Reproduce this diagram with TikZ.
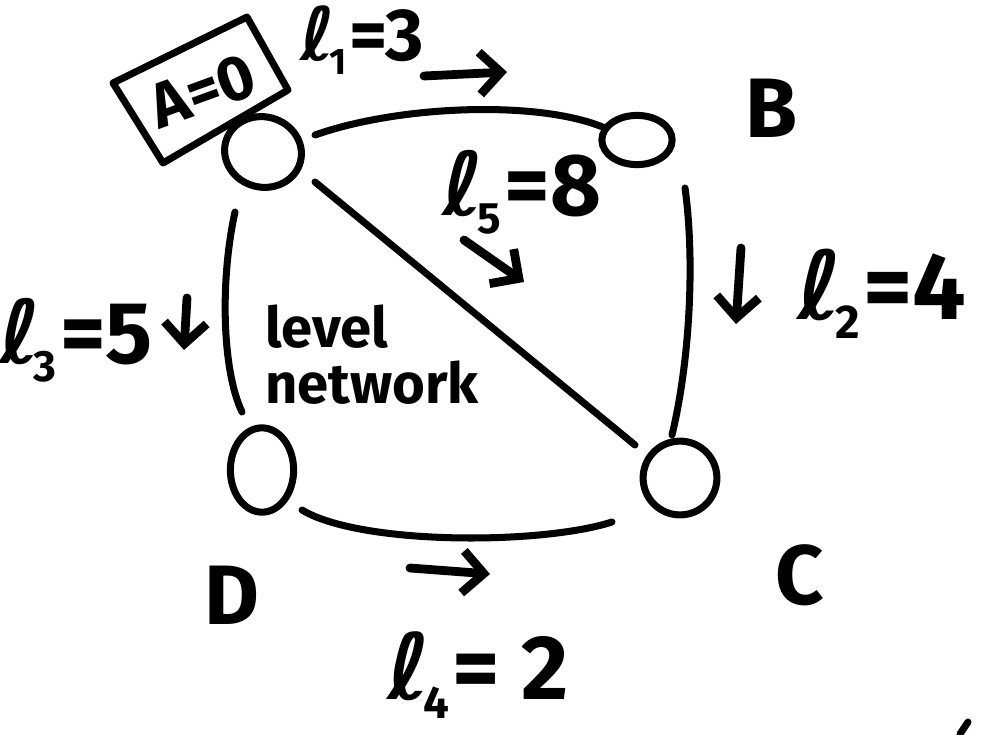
\documentclass[tikz,border=0pt]{standalone}
\usepackage{fontspec}
\setmainfont{Fira Sans}
\newfontfamily\ellfont{DejaVu Sans}
\usetikzlibrary{arrows.meta,shapes.geometric}
\newcommand{\ellab}[2]{{\ellfont\bfseries ℓ}\kern-0.08em\raisebox{-0.2em}{\fontsize{0.5em}{0.5em}\selectfont #1}\kern0.04em#2}
\begin{document}
\begin{tikzpicture}[x=0.02cm,y=-0.02cm,
  stroke/.style={line width=4pt, line cap=round},
  vert/.style={draw, line width=4pt, ellipse, inner sep=0pt},
  lab/.style={font=\fontsize{48}{52}\selectfont\bfseries, inner sep=0pt},
  arr/.style={line width=5pt, line cap=round, -{Straight Barb[length=12pt,width=24pt,line width=5pt]}}]
\useasboundingbox (0,0) rectangle (987,734);
% vertices
\node[vert, minimum width=44pt, minimum height=40pt, rotate=-15] (A) at (263,152) {};
\node[vert, minimum width=40pt, minimum height=28pt] (B) at (637,140) {};
\node[vert, minimum width=42pt, minimum height=42pt] (C) at (680,478) {};
\node[vert, minimum width=36pt, minimum height=48pt] (D) at (262,470) {};
% edges
\coordinate (ab1) at (315,135); \coordinate (ab2) at (605,128);
\coordinate (ac1) at (315,182); \coordinate (ac2) at (635,445);
\coordinate (bc1) at (685,188); \coordinate (bc2) at (672,435);
\coordinate (ad1) at (235,212); \coordinate (ad2) at (242,412);
\coordinate (dc1) at (302,510); \coordinate (dc2) at (612,522);
\draw[stroke] (ab1) .. controls (400,105) and (540,100) .. (ab2);
\draw[stroke] (ac1) -- (ac2);
\draw[stroke] (bc1) .. controls (695,260) and (690,360) .. (bc2);
\draw[stroke] (ad1) .. controls (220,280) and (222,370) .. (ad2);
\draw[stroke] (dc1) .. controls (360,545) and (540,545) .. (dc2);
% A=0 box
\node[lab, rotate=20, font=\fontsize{36}{36}\selectfont\bfseries] (Abox) at (203,91) {A=0};
\coordinate (bx1) at (113,83); \coordinate (bx2) at (247,17);
\coordinate (bx3) at (288,90); \coordinate (bx4) at (163,163);
\draw[line width=4pt, line join=round] (bx1) -- (bx2) -- (bx3) -- (bx4) -- cycle;
% labels
\node[lab, font=\fontsize{42}{44}\selectfont\bfseries] (l1) at (362,40) {\ellab{1}{=3}};
\coordinate (a1s) at (424,76); \coordinate (a1e) at (507,72);
\draw[arr] (a1s) -- (a1e);
\node[lab] (Blab) at (772,108) {B};
\node[lab, font=\fontsize{50}{52}\selectfont\bfseries] (l5) at (522,192) {\ellab{5}{=8}};
\coordinate (a5s) at (464,240); \coordinate (a5e) at (524,282);
\draw[arr] (a5s) -- (a5e);
\coordinate (a2s) at (741,248); \coordinate (a2e) at (736,324);
\draw[arr] (a2s) -- (a2e);
\node[lab, font=\fontsize{54}{56}\selectfont\bfseries] (l2) at (882,294) {\ellab{2}{=4}};
\node[lab, font=\fontsize{50}{52}\selectfont\bfseries] (l3) at (76,340) {\ellab{3}{=5}};
\coordinate (a3s) at (187,298); \coordinate (a3e) at (184,350);
\draw[arr] (a3s) -- (a3e);
\node[lab, font=\fontsize{32}{32}\selectfont\bfseries, align=left] (net) at (372,355) {level\\network};
\node[lab] (Dlab) at (232,595) {D};
\coordinate (a4s) at (410,568); \coordinate (a4e) at (490,574);
\draw[arr] (a4s) -- (a4e);
\node[lab] (Clab) at (800,575) {C};
\node[lab, font=\fontsize{52}{54}\selectfont\bfseries] (l4) at (478,675) {\ellab{4}{= 2}};
\coordinate (m1) at (968,722); \coordinate (m2) at (960,734);
\draw[stroke] (m1) -- (m2);
\end{tikzpicture}
\end{document}
